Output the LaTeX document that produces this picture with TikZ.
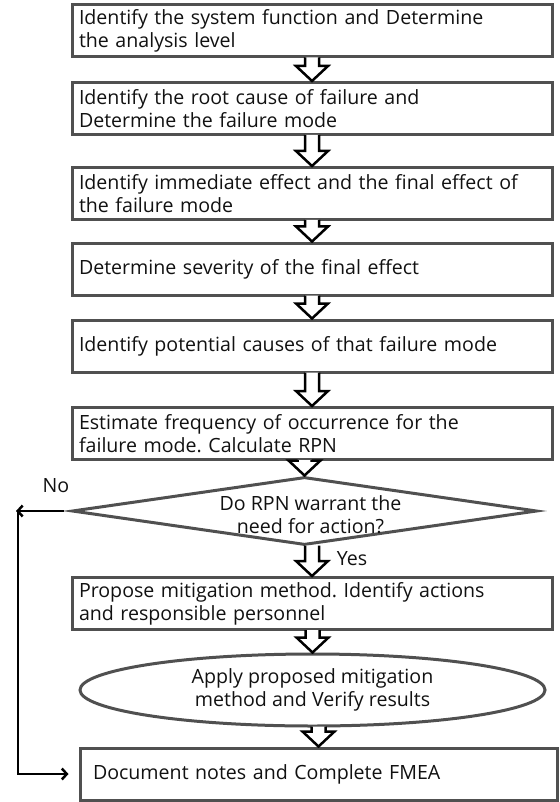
\documentclass[tikz,border=0pt]{standalone}
\usepackage{fontspec}
\setmainfont{Open Sans}
\frenchspacing
\usetikzlibrary{positioning,shapes.geometric,calc,arrows.meta}

\definecolor{boxgray}{HTML}{505050}
\definecolor{textgray}{HTML}{111111}
\newcommand{\flowfont}{\fontsize{19.6}{23}\selectfont}

% hollow block arrow from the bottom of #1 down to the top of #2
\newcommand{\hollowarrow}[2]{%
    \draw[blockarrow] ($(#1.south -| #2.north)+(-7,-1)$) -- ($(#2.north)+(-7,-15)$)
        -- ($(#2.north)+(-16,-15)$) -- (#2.north) -- ($(#2.north)+(16,-15)$)
        -- ($(#2.north)+(7,-15)$) -- ($(#1.south -| #2.north)+(7,-1)$);}

\tikzset{
    stepbox/.style={draw=boxgray, line width=3pt, rectangle, minimum width=480pt,
        minimum height=52pt, text width=466pt, inner xsep=7pt, inner ysep=0pt,
        align=left, font=\flowfont, text=textgray},
    decision/.style={draw=boxgray, line width=3pt, diamond, minimum width=465pt,
        minimum height=68pt, inner sep=0pt},
    applybox/.style={draw=boxgray, line width=3pt, ellipse, minimum width=465pt,
        minimum height=72pt, inner sep=0pt, align=center, font=\flowfont, text=textgray},
    blockarrow/.style={draw=black, line width=2.5pt, fill=white, line join=miter},
    flowline/.style={draw=black, line width=2.5pt, -{Straight Barb[length=5pt,width=11pt]}},
    tag/.style={font=\flowfont, text=textgray}
}

\begin{document}
\begin{tikzpicture}[x=1pt, y=-1pt]
    \useasboundingbox (0,0) rectangle (559,802);

    \node[stepbox] (ident) at (312,31) {Identify the system function and Determine\\the analysis level};
    \node[stepbox] (root) at (312,108.5) {Identify the root cause of failure and\\Determine the failure mode};
    \node[stepbox] (effect) at (312,193.5) {Identify immediate effect and the final effect of\\the failure mode};
    \node[stepbox] (severity) at (312,269) {Determine severity of the final effect};
    \node[stepbox] (causes) at (312,346) {Identify potential causes of that failure mode};
    \node[stepbox] (freq) at (312,433.5) {Estimate frequency of occurrence for the\\failure mode. Calculate RPN};
    \node[decision] (rpn) at (304.5,511) {};
    \node[tag, align=center] (rpntext) at ($(rpn.center)+(6,4)$) {Do RPN warrant the\\need for action?};
    \node[stepbox] (mitig) at (312,603.5) {Propose mitigation method. Identify actions\\and responsible personnel};
    \node[applybox] (apply) at (312.5,690) {Apply proposed mitigation\\method and Verify results};
    \node[stepbox, minimum width=477pt, text width=451pt, inner xsep=13pt] (fmea) at (318.5,774) {Document notes and Complete FMEA};

    \node[tag] (no) at (56,486) {No};
    \node[tag] (yes) at (352,559) {Yes};

    % block arrows between the steps
    \hollowarrow{ident}{root}
    \hollowarrow{root}{effect}
    \hollowarrow{effect}{severity}
    \hollowarrow{severity}{causes}
    \hollowarrow{causes}{freq}
    \hollowarrow{freq}{rpn}
    \hollowarrow{rpn}{mitig}
    \hollowarrow{mitig}{apply}
    \hollowarrow{apply}{fmea}

    % the "No" branch goes straight to the last step
    \coordinate (nobend) at (16,511);
    \draw[flowline, shorten <=7pt] (rpn.west) -- (nobend);
    \draw[flowline, shorten >=10pt] ($(nobend)+(2,-1)$) |- (fmea.west);
\end{tikzpicture}
\end{document}
